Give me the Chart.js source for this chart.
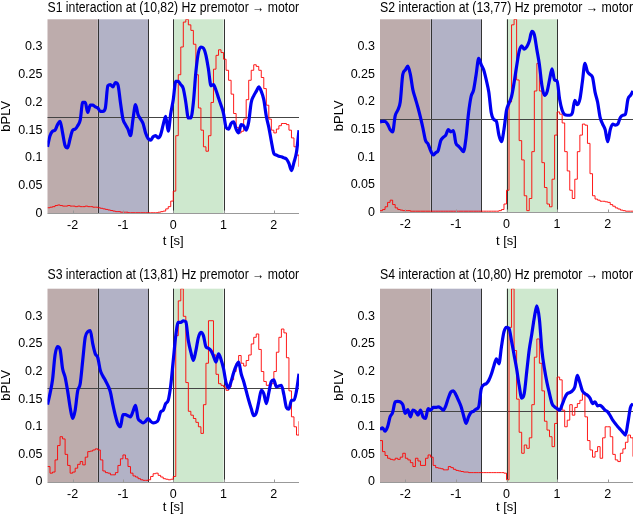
<!DOCTYPE html>
<html>
<head>
<meta charset="utf-8">
<script src="https://cdn.jsdelivr.net/npm/chart.js@4/dist/chart.umd.min.js"></script>
<style>
    html, body { margin: 0; padding: 0; background: #fff; width: 640px; height: 517px; overflow: hidden; }
    canvas { position: absolute; }
</style>
</head>
<body>
<canvas id="g1" width="320" height="258" style="left:0;top:0"></canvas>
<canvas id="g2" width="320" height="258" style="left:320px;top:0"></canvas>
<canvas id="g3" width="320" height="259" style="left:0;top:258px"></canvas>
<canvas id="g4" width="320" height="259" style="left:320px;top:258px"></canvas>
<script>
// ==========================================
// bPLV premotor -> motor, 4 sujeitos
// ==========================================

// eixo do tempo: -2.5 s a 2.5 s, passo de 0.05 s
const tempo = Array.from({ length: 101 }, (_, i) => +(-2.5 + i * 0.05).toFixed(2));

// rótulos dos eixos
const rotulosX = [-2, -1, 0, 1, 2];
const rotulosY = [0, 0.05, 0.1, 0.15, 0.2, 0.25, 0.3];

const titulos = [
    "S1 interaction at (10,82) Hz premotor \u2192 motor",
    "S2 interaction at (13,77) Hz premotor \u2192 motor",
    "S3 interaction at (13,81) Hz premotor \u2192 motor",
    "S4 interaction at (10,80) Hz premotor \u2192 motor"
];

// limiar (linha horizontal) de cada sujeito
const limiares = [0.174, 0.170, 0.171, 0.128];

// intervalos sombreados [início, fim] em s, e divisórias verticais
const faixas = [[-2.5, -1.5], [-1.5, -0.5], [0, 1]];
const divisorias = [-1.5, -0.5, 0, 1];

// curvas azuis (bPLV)
const azulS1 = [
    0.120, 0.140, 0.148, 0.150, 0.160, 0.166, 0.145, 0.122, 0.118, 0.135,
    0.150, 0.152, 0.158, 0.168, 0.200, 0.200, 0.182, 0.195, 0.195, 0.192,
    0.190, 0.184, 0.184, 0.190, 0.230, 0.232, 0.228, 0.236, 0.232, 0.200,
    0.170, 0.160, 0.152, 0.140, 0.170, 0.196, 0.178, 0.170, 0.162, 0.145,
    0.135, 0.132, 0.138, 0.140, 0.136, 0.142, 0.160, 0.175, 0.148, 0.180,
    0.205, 0.238, 0.238, 0.232, 0.225, 0.200, 0.172, 0.172, 0.200, 0.255,
    0.290, 0.300, 0.298, 0.285, 0.260, 0.230, 0.232, 0.222, 0.208, 0.195,
    0.180, 0.155, 0.152, 0.162, 0.165, 0.152, 0.145, 0.160, 0.158, 0.150,
    0.165, 0.200, 0.212, 0.220, 0.228, 0.220, 0.205, 0.175, 0.155, 0.130,
    0.108, 0.105, 0.103, 0.102, 0.100, 0.098, 0.090, 0.077, 0.092, 0.110,
    0.150
];
const azulS2 = [
    0.164, 0.165, 0.165, 0.160, 0.150, 0.146, 0.175, 0.185, 0.200, 0.250,
    0.258, 0.265, 0.250, 0.222, 0.206, 0.190, 0.172, 0.152, 0.130, 0.124,
    0.112, 0.104, 0.108, 0.112, 0.130, 0.136, 0.140, 0.150, 0.146, 0.148,
    0.125, 0.120, 0.115, 0.110, 0.135, 0.180, 0.210, 0.222, 0.250, 0.279,
    0.268, 0.258, 0.240, 0.218, 0.180, 0.168, 0.165, 0.140, 0.128, 0.150,
    0.185, 0.198, 0.210, 0.235, 0.265, 0.292, 0.302, 0.296, 0.300, 0.310,
    0.328, 0.322, 0.295, 0.268, 0.230, 0.212, 0.218, 0.240, 0.260, 0.240,
    0.238, 0.205, 0.185, 0.177, 0.176, 0.176, 0.180, 0.203, 0.195, 0.205,
    0.237, 0.270, 0.255, 0.250, 0.245, 0.218, 0.200, 0.172, 0.160, 0.150,
    0.128, 0.150, 0.160, 0.158, 0.160, 0.172, 0.176, 0.178, 0.205, 0.212,
    0.220
];
const azulS3 = [
    0.140, 0.160, 0.185, 0.230, 0.245, 0.240, 0.205, 0.190, 0.165, 0.135,
    0.115, 0.130, 0.165, 0.178, 0.220, 0.262, 0.272, 0.274, 0.250, 0.232,
    0.225, 0.202, 0.192, 0.184, 0.175, 0.163, 0.140, 0.120, 0.105, 0.100,
    0.122, 0.122, 0.120, 0.118, 0.128, 0.139, 0.115, 0.110, 0.107, 0.110,
    0.115, 0.110, 0.107, 0.108, 0.112, 0.127, 0.130, 0.142, 0.148, 0.175,
    0.220, 0.265, 0.289, 0.289, 0.292, 0.290, 0.256, 0.235, 0.220, 0.238,
    0.262, 0.271, 0.265, 0.245, 0.242, 0.238, 0.228, 0.217, 0.232, 0.222,
    0.205, 0.180, 0.170, 0.182, 0.198, 0.210, 0.217, 0.196, 0.182, 0.165,
    0.148, 0.133, 0.120, 0.125, 0.145, 0.166, 0.160, 0.142, 0.162, 0.182,
    0.185, 0.172, 0.174, 0.175, 0.158, 0.135, 0.132, 0.148, 0.148, 0.165,
    0.196
];
const azulS4 = [
    0.095, 0.098, 0.092, 0.100, 0.118, 0.126, 0.145, 0.146, 0.145, 0.140,
    0.124, 0.131, 0.118, 0.130, 0.128, 0.121, 0.130, 0.118, 0.115, 0.133,
    0.130, 0.135, 0.135, 0.136, 0.134, 0.130, 0.138, 0.152, 0.163, 0.165,
    0.158, 0.148, 0.137, 0.121, 0.106, 0.118, 0.126, 0.128, 0.132, 0.136,
    0.168, 0.176, 0.178, 0.184, 0.195, 0.210, 0.223, 0.214, 0.245, 0.272,
    0.280, 0.278, 0.255, 0.230, 0.205, 0.175, 0.152, 0.160, 0.200, 0.240,
    0.268, 0.298, 0.319, 0.295, 0.238, 0.205, 0.180, 0.160, 0.142, 0.136,
    0.133, 0.130, 0.140, 0.152, 0.160, 0.162, 0.165, 0.172, 0.193, 0.180,
    0.165, 0.160, 0.157, 0.152, 0.142, 0.145, 0.138, 0.139, 0.135, 0.130,
    0.127, 0.120, 0.112, 0.106, 0.100, 0.095, 0.090, 0.085, 0.108, 0.135,
    0.142
];

// curvas vermelhas
const vermS1 = [
    0.010, 0.011, 0.012, 0.014, 0.015, 0.014, 0.013, 0.013, 0.014, 0.013,
    0.013, 0.012, 0.013, 0.012, 0.012, 0.013, 0.012, 0.012, 0.011, 0.011,
    0.010, 0.009, 0.008, 0.007, 0.006, 0.005, 0.004, 0.003, 0.003, 0.002,
    0.002, 0.002, 0.001, 0.001, 0.001, 0.001, 0.001, 0.001, 0.001, 0.001,
    0.001, 0.001, 0.001, 0.001, 0.002, 0.003, 0.004, 0.008, 0.012, 0.022,
    0.040, 0.140, 0.250, 0.300, 0.345, 0.350, 0.340, 0.330, 0.305, 0.250,
    0.190, 0.150, 0.120, 0.112, 0.140, 0.200, 0.260, 0.285, 0.295, 0.290,
    0.278, 0.258, 0.240, 0.215, 0.180, 0.155, 0.145, 0.148, 0.170, 0.205,
    0.240, 0.258, 0.268, 0.265, 0.258, 0.245, 0.225, 0.195, 0.170, 0.150,
    0.145, 0.152, 0.158, 0.162, 0.162, 0.160, 0.150, 0.136, 0.120, 0.105,
    0.084
];
const vermS2 = [
    0.003, 0.005, 0.010, 0.018, 0.022, 0.014, 0.008, 0.005, 0.004, 0.003,
    0.003, 0.003, 0.002, 0.002, 0.002, 0.002, 0.002, 0.002, 0.002, 0.002,
    0.002, 0.002, 0.002, 0.002, 0.002, 0.002, 0.002, 0.002, 0.002, 0.002,
    0.002, 0.002, 0.002, 0.002, 0.002, 0.002, 0.002, 0.002, 0.002, 0.002,
    0.002, 0.002, 0.002, 0.002, 0.002, 0.002, 0.002, 0.003, 0.005, 0.015,
    0.040, 0.200, 0.340, 0.350, 0.240, 0.130, 0.095, 0.030, 0.003, 0.025,
    0.110, 0.220, 0.270, 0.220, 0.090, 0.045, 0.015, 0.010, 0.060, 0.140,
    0.182, 0.178, 0.162, 0.110, 0.075, 0.040, 0.025, 0.060, 0.110, 0.140,
    0.160, 0.158, 0.125, 0.070, 0.030, 0.024, 0.022, 0.020, 0.020, 0.019,
    0.018, 0.014, 0.011, 0.008, 0.006, 0.004, 0.003, 0.002, 0.002, 0.002,
    0.002
];
const vermS3 = [
    0.028, 0.016, 0.018, 0.040, 0.066, 0.082, 0.078, 0.050, 0.030, 0.016,
    0.018, 0.025, 0.032, 0.037, 0.031, 0.045, 0.055, 0.056, 0.058, 0.060,
    0.058, 0.040, 0.020, 0.017, 0.016, 0.013, 0.013, 0.017, 0.030, 0.042,
    0.049, 0.042, 0.028, 0.016, 0.011, 0.009, 0.006, 0.004, 0.003, 0.003,
    0.004, 0.010, 0.015, 0.016, 0.012, 0.009, 0.006, 0.005, 0.004, 0.005,
    0.010, 0.265, 0.328, 0.350, 0.300, 0.180, 0.128, 0.121, 0.115, 0.108,
    0.100, 0.088, 0.140, 0.215, 0.292, 0.292, 0.230, 0.195, 0.178, 0.175,
    0.172, 0.166, 0.172, 0.185, 0.200, 0.215, 0.229, 0.215, 0.210, 0.220,
    0.230, 0.250, 0.262, 0.268, 0.240, 0.200, 0.182, 0.175, 0.176, 0.178,
    0.200, 0.235, 0.262, 0.277, 0.270, 0.225, 0.165, 0.118, 0.100, 0.085,
    0.110
];
const vermS4 = [
    0.075, 0.055, 0.048, 0.043, 0.041, 0.040, 0.043, 0.041, 0.045, 0.052,
    0.043, 0.040, 0.035, 0.028, 0.043, 0.038, 0.030, 0.030, 0.043, 0.049,
    0.045, 0.030, 0.026, 0.025, 0.024, 0.022, 0.022, 0.028, 0.026, 0.023,
    0.021, 0.020, 0.019, 0.018, 0.018, 0.017, 0.017, 0.017, 0.017, 0.017,
    0.017, 0.017, 0.017, 0.017, 0.017, 0.017, 0.017, 0.017, 0.017, 0.016,
    0.004, 0.280, 0.350, 0.238, 0.150, 0.090, 0.052, 0.067, 0.061, 0.080,
    0.140, 0.226, 0.259, 0.215, 0.165, 0.110, 0.094, 0.082, 0.064, 0.106,
    0.190, 0.185, 0.130, 0.100, 0.112, 0.140, 0.121, 0.135, 0.142, 0.148,
    0.160, 0.118, 0.075, 0.058, 0.045, 0.055, 0.064, 0.043, 0.080, 0.100,
    0.100, 0.082, 0.050, 0.040, 0.037, 0.052, 0.060, 0.072, 0.085, 0.080,
    0.046
];

const coresFaixas = ["#bdacac", "#b2b2c6", "#cee8ce"];
const fonte = "'Liberation Sans', Arial, sans-serif";
Chart.defaults.font.family = fonte;
Chart.defaults.color = "#000";

// fundo: faixas, divisórias, limiar e eixo inferior
const fundo = {
    id: "fundo",
    beforeDatasetsDraw(chart, args, opts) {
        const { ctx, chartArea: a, scales: { x, y } } = chart;
        ctx.save();
        faixas.forEach((f, i) => {
            const x0 = x.getPixelForValue(f[0]);
            const x1 = x.getPixelForValue(f[1]);
            ctx.fillStyle = coresFaixas[i];
            ctx.fillRect(x0, a.top, x1 - x0, a.bottom - a.top);
        });
        ctx.lineWidth = 1;
        ctx.strokeStyle = "#333";
        divisorias.forEach(t => {
            const px = Math.round(x.getPixelForValue(t)) + 0.5;
            ctx.beginPath();
            ctx.moveTo(px, a.top);
            ctx.lineTo(px, a.bottom);
            ctx.stroke();
        });
        const py = Math.round(y.getPixelForValue(opts.limiar)) + 0.5;
        ctx.strokeStyle = "#444";
        ctx.beginPath();
        ctx.moveTo(a.left, py);
        ctx.lineTo(a.right, py);
        ctx.stroke();
        ctx.restore();
    },
    afterDatasetsDraw(chart) {
        const { ctx, chartArea: a, scales: { x } } = chart;
        ctx.save();
        ctx.strokeStyle = "#999";
        ctx.lineWidth = 1;
        const pb = Math.round(a.bottom) + 0.5;
        ctx.beginPath();
        ctx.moveTo(a.left, pb);
        ctx.lineTo(a.right, pb);
        x.ticks.forEach(t => {
            const px = Math.round(x.getPixelForValue(t.value)) + 0.5;
            ctx.moveTo(px, pb);
            ctx.lineTo(px, pb - 3);
        });
        ctx.stroke();
        ctx.restore();
    }
};

function pontos(valores) {
    return valores.map((v, i) => ({ x: tempo[i], y: v }));
}

function painel(id, n, azul, verm, caixa) {
    new Chart(document.getElementById(id), {
        type: "line",
        data: {
            datasets: [
                {
                    data: pontos(azul),
                    borderColor: "#0000f2",
                    borderWidth: 3.2,
                    pointRadius: 0,
                    cubicInterpolationMode: "monotone"
                },
                {
                    data: pontos(verm),
                    borderColor: "rgba(255,0,0,.9)",
                    borderWidth: 1,
                    pointRadius: 0,
                    stepped: true
                }
            ]
        },
        options: {
            responsive: false, animation: false, events: [],
            layout: { padding: { top: caixa.topo, right: caixa.dir, left: 0, bottom: 0 } },
            plugins: {
                legend: { display: false },
                tooltip: { enabled: false },
                title: {
                    display: true, text: titulos[n], fullSize: false, color: "#000",
                    font: { size: 14, weight: "normal" },
                    padding: { top: 0, bottom: caixa.tituloBaixo }
                },
                fundo: { limiar: limiares[n] }
            },
            scales: {
                x: {
                    type: "linear", min: -2.5, max: 2.5,
                    grid: { display: false, drawTicks: false },
                    border: { display: false },
                    ticks: { padding: 5, maxRotation: 0, autoSkip: false, font: { size: 12.5 } },
                    afterBuildTicks: s => { s.ticks = rotulosX.map(v => ({ value: v })); },
                    afterFit: s => { s.height = caixa.eixoX; },
                    title: { display: true, text: "t [s]", font: { size: 13 }, padding: { top: 0, bottom: caixa.rotuloX } }
                },
                y: {
                    min: 0, max: 0.35,
                    grid: { display: false, drawTicks: false },
                    border: { display: false },
                    ticks: { padding: 5, font: { size: 12.5 }, callback: v => String(+(+v).toFixed(2)) },
                    afterBuildTicks: s => { s.ticks = rotulosY.map(v => ({ value: v })); },
                    afterFit: s => { s.width = caixa.eixoY; },
                    title: { display: true, text: "bPLV", font: { size: 13, lineHeight: 1 }, padding: { top: caixa.rotuloY, bottom: 0 } }
                }
            }
        },
        plugins: [fundo]
    });
}

painel("g1", 0, azulS1, vermS1, { topo: 0, tituloBaixo: 2.5, dir: 21, eixoY: 47.5, eixoX: 44.7, rotuloX: 8.5, rotuloY: 0 });
painel("g2", 1, azulS2, vermS2, { topo: 0, tituloBaixo: 2.5, dir: 7, eixoY: 60, eixoX: 45.7, rotuloX: 8.5, rotuloY: 12.5 });
painel("g3", 2, azulS3, vermS3, { topo: 8.6, tituloBaixo: 5.3, dir: 21, eixoY: 47.5, eixoX: 35, rotuloX: 2.2, rotuloY: 0 });
painel("g4", 3, azulS4, vermS4, { topo: 8.6, tituloBaixo: 5.3, dir: 7, eixoY: 60, eixoX: 35, rotuloX: 2.2, rotuloY: 12.5 });
</script>
</body>
</html>
